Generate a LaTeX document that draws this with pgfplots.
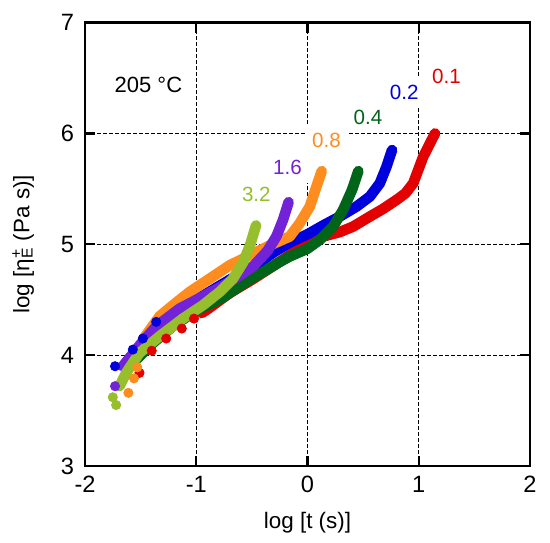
\documentclass[border=0pt]{standalone}
\usepackage{fontspec}
\setmainfont{Liberation Sans}
\usepackage{pgfplots}
\pgfplotsset{compat=1.18}
\usetikzlibrary{calc}
\definecolor{cRed}{RGB}{228,0,0}
\definecolor{cBlue}{RGB}{0,0,220}
\definecolor{cDGreen}{RGB}{0,100,25}
\definecolor{cOrange}{RGB}{255,140,30}
\definecolor{cPurple}{RGB}{115,35,215}
\definecolor{cLGreen}{RGB}{150,190,45}
\pgfplotsset{band/.style={line width=5.3pt, line cap=round, line join=round},
  dots/.style={only marks, mark=*, mark size=2.3pt}}
\begin{document}
\begin{tikzpicture}
\begin{axis}[name=ax, scale only axis, width=222.5pt, height=221.7pt,
  xmin=-2, xmax=2, ymin=3, ymax=7,
  xtick={-2,-1,0,1,2}, ytick={3,4,5,6,7},
  tick align=inside, major tick length=5pt,
  tick style={line width=1.2pt, black},
  axis line style={line width=1.2pt},
  grid=major,
  major grid style={black, line width=0.5pt, dash pattern=on 2pt off 1pt},
  /pgf/number format/assume math mode=true,
  ticklabel style={font=\fontsize{11.8}{13}\selectfont},
  xticklabel style={yshift=-1.7pt},
  yticklabel style={xshift=-2pt},
  xlabel={log [t (s)]},
  ylabel={log [η\rlap{\textsuperscript{+}}\textsubscript{E} (Pa s)]},
  label style={font=\fontsize{11.2}{13}\selectfont},
  xlabel style={at={(axis description cs:0.5,-0.1286)}, anchor=center},
  ylabel style={at={(axis description cs:-0.139,0.5)}, anchor=center},
]
% 0.1
\addplot[dots, cRed] coordinates {
(-1.51,3.84) (-1.40,4.04) (-1.27,4.15) (-1.13,4.24) (-1.02,4.33)};
\addplot[band, cRed] coordinates {
(-0.95,4.38) (-0.89,4.42) (-0.7,4.56) (-0.5,4.68) (-0.3,4.81) (-0.15,4.91) (0.0,5.01)
(0.14,5.07) (0.29,5.11) (0.41,5.16) (0.56,5.25) (0.68,5.32) (0.80,5.40) (0.88,5.46)
(0.95,5.55) (1.04,5.79) (1.146,6.0)};
% 0.2
\addplot[dots, cBlue] coordinates {
(-1.73,3.90) (-1.57,4.05) (-1.48,4.15) (-1.36,4.30)};
\addplot[band, cBlue] coordinates {
(-1.30,4.33) (-1.0,4.50) (-0.7,4.68) (-0.5,4.79) (-0.3,4.93) (-0.15,5.02) (0.0,5.09)
(0.14,5.17) (0.29,5.25) (0.44,5.34) (0.56,5.43) (0.65,5.55) (0.71,5.70) (0.76,5.85)};
% 0.4
\addplot[band, cDGreen] coordinates {
(-1.55,3.95) (-1.4,4.10) (-1.2,4.27) (-1.0,4.40) (-0.76,4.52) (-0.55,4.66) (-0.40,4.75)
(-0.25,4.84) (-0.16,4.89) (0.0,4.96) (0.11,5.04) (0.23,5.16) (0.32,5.31) (0.40,5.49)
(0.457,5.66)};
% 0.8
\addplot[dots, cOrange] coordinates {
(-1.61,3.66) (-1.56,3.79) (-1.53,3.89)};
\addplot[band, cOrange] coordinates {
(-1.48,4.14) (-1.33,4.35) (-1.21,4.45) (-1.06,4.57) (-0.88,4.69) (-0.70,4.81)
(-0.52,4.90) (-0.34,4.99) (-0.16,5.07) (-0.07,5.19) (0.02,5.34) (0.08,5.52) (0.128,5.66)};
% 1.6
\addplot[dots, cPurple] coordinates {
(-1.73,3.72)};
\addplot[band, cPurple] coordinates {
(-1.66,3.90) (-1.50,4.10) (-1.36,4.26) (-1.15,4.42) (-0.94,4.53) (-0.70,4.66)
(-0.49,4.80) (-0.36,4.94) (-0.28,5.07) (-0.22,5.22) (-0.17,5.38)};
% 3.2
\addplot[dots, cLGreen] coordinates {
(-1.75,3.62) (-1.72,3.55)};
\addplot[band, cLGreen] coordinates {
(-1.69,3.72) (-1.63,3.84) (-1.51,4.02) (-1.33,4.17) (-1.12,4.33) (-0.94,4.45)
(-0.79,4.57) (-0.67,4.69) (-0.577,4.84) (-0.517,4.99) (-0.463,5.17)};
% labels
\begin{scope}[every node/.style={fill=white, inner xsep=3.5pt, inner ysep=4pt, font=\fontsize{10.3}{12}\selectfont}]
\node[text=cRed] at (axis cs:1.25,6.51) {0.1};
\node[text=cBlue] at (axis cs:0.87,6.37) {0.2};
\node[text=cDGreen] at (axis cs:0.544,6.146) {0.4};
\node[text=cOrange] at (axis cs:0.17,5.94) {0.8};
\node[text=cPurple] at (axis cs:-0.18,5.69) {1.6};
\node[text=cLGreen] at (axis cs:-0.46,5.45) {3.2};
\end{scope}
\node[font=\fontsize{11}{13}\selectfont] at (axis cs:-1.43,6.44) {205 °C};
\end{axis}
\pgfresetboundingbox
\path ($(ax.south west)+(-42.5pt,-38.5pt)$) rectangle ($(ax.north east)+(10pt,11.3pt)$);
\end{tikzpicture}
\end{document}
